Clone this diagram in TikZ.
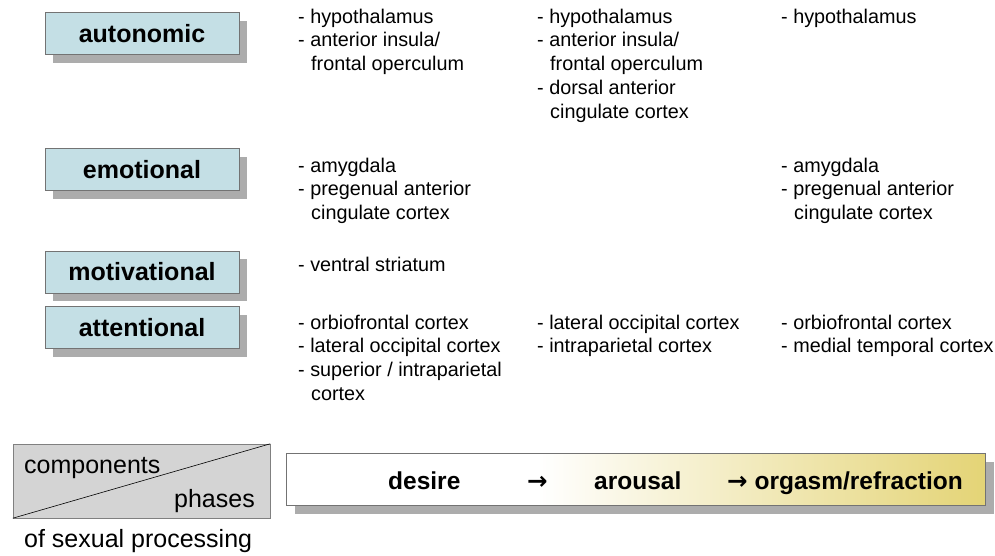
\documentclass[tikz,border=0pt]{standalone}
\usepackage{fontspec}
\setmainfont{Liberation Sans}
\newfontfamily\arrowfont{DejaVu Sans}
\usetikzlibrary{shadows}
\definecolor{boxblue}{RGB}{196,223,229}
\definecolor{shadowgray}{RGB}{172,172,172}
\definecolor{bargold}{RGB}{228,212,118}
\definecolor{compgray}{RGB}{212,212,212}
\pgfdeclarehorizontalshading{phaseshade}{100bp}{color(0bp)=(white); color(25bp)=(white); color(43bp)=(white); color(75bp)=(bargold); color(100bp)=(bargold)}
\newcommand{\ind}{\hspace*{13pt}}

\begin{document}
\begin{tikzpicture}[x=1pt, y=-1pt,
    compbox/.style={draw=black!55, fill=boxblue, minimum width=194pt, minimum height=42pt, inner sep=0pt,
      font=\fontsize{25}{30}\selectfont\bfseries,
      drop shadow={shadow xshift=8pt, shadow yshift=-8pt, fill=shadowgray, opacity=1}},
    area/.style={anchor=north west, align=left, inner sep=0pt, font=\fontsize{19.8}{23.8}\selectfont},
    phase/.style={anchor=base west, inner sep=0pt, font=\fontsize{24.5}{29}\selectfont\bfseries},
    plain/.style={inner sep=0pt, font=\fontsize{25}{30}\selectfont}]
    \useasboundingbox (0,0) rectangle (995,555);
    % components
    \foreach \name/\y/\txt in {auton/33.5/autonomic, emot/169.5/emotional, motiv/272/motivational, atten/327.5/attentional} {
      \node [compbox] (\name) at (142, \y) {\txt};
    }
    % brain areas
    \node [area] (auton-desire) at (298, 8.6) {- hypothalamus\\- anterior insula/\\\ind frontal operculum};
    \node [area] (auton-arousal) at (537, 8.6) {- hypothalamus\\- anterior insula/\\\ind frontal operculum\\- dorsal anterior\\\ind cingulate cortex};
    \node [area] (auton-orgasm) at (781, 8.6) {- hypothalamus};
    \node [area] (emot-desire) at (298, 157.6) {- amygdala\\- pregenual anterior\\\ind cingulate cortex};
    \node [area] (emot-orgasm) at (781, 157.6) {- amygdala\\- pregenual anterior\\\ind cingulate cortex};
    \node [area] (motiv-desire) at (298, 256.6) {- ventral striatum};
    \node [area] (atten-desire) at (298, 314.6) {- orbiofrontal cortex\\- lateral occipital cortex\\- superior / intraparietal\\\ind cortex};
    \node [area] (atten-arousal) at (537, 314.6) {- lateral occipital cortex\\- intraparietal cortex};
    \node [area] (atten-orgasm) at (781, 314.6) {- orbiofrontal cortex\\- medial temporal cortex};
    % legend box
    \node [draw=black!50, fill=compgray, minimum width=257pt, minimum height=74pt, inner sep=0pt] (legend) at (141.5, 481) {};
    \draw [semithick] (legend.south west) -- (legend.north east);
    \node [plain, anchor=base west] (comp) at (24, 473) {components};
    \node [plain, anchor=base east] (phas) at (255, 507) {phases};
    \node [plain, anchor=base west] (proc) at (24, 547) {of sexual processing};
    % phases
    \node [draw=black!55, shading=phaseshade, shade, minimum width=699pt, minimum height=52pt, inner sep=0pt,
      drop shadow={shadow xshift=9pt, shadow yshift=-9pt, fill=shadowgray, opacity=1}] (bar) at (635.5, 479) {};
    \node [phase] (desire) at (388, 489) {desire};
    \node [phase] (arrow1) at (527, 489) {\arrowfont →};
    \node [phase] (arousal) at (594, 489) {arousal};
    \node [phase] (orgasm) at (727, 489) {{\arrowfont →} orgasm/refraction};
  \end{tikzpicture}
\end{document}
